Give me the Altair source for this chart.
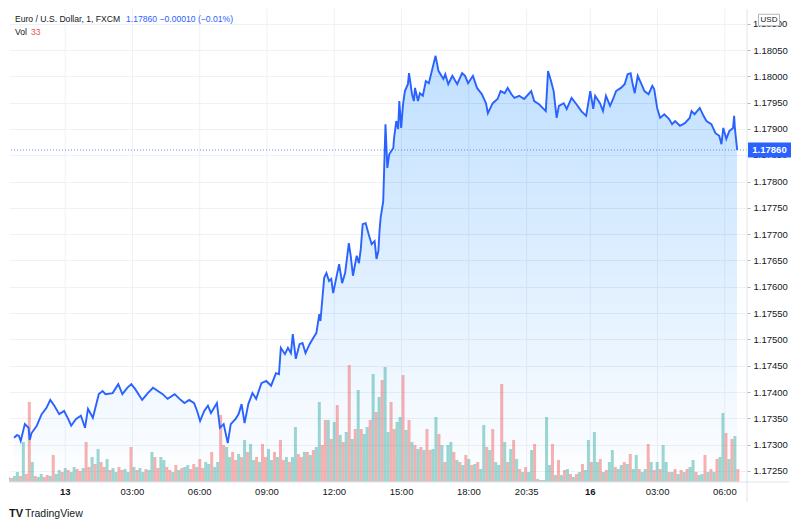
import altair as alt
import pandas as pd

# ---- price series (minutes relative to 13th 00:00, trading-time axis) ----
times = [-137, -129, -124, -119, -108, -98, -95, -90, -76, -63, -50, -40, -29, -16, -3,
         8, 16, 29, 42, 53, 61, 74, 90, 100, 108, 127, 142, 153, 166, 177, 187, 206, 221,
         235, 248, 261, 274, 293, 306, 319, 332, 345, 353, 361, 372, 382, 390, 406, 414,
         424, 435, 443, 456, 464, 472, 480, 490, 501, 511, 525, 538, 551, 564, 572, 577,
         588, 596, 604, 609, 617, 627, 635, 643, 654, 664, 672, 680, 683, 693, 699, 706,
         712, 717, 728, 733, 741, 749, 759, 764, 770, 780, 786, 791, 796, 804, 812, 820,
         828, 833, 838, 841, 844, 851, 857, 862, 867, 878, 880, 886, 891, 894, 899, 904,
         909, 917, 920, 928, 933, 936, 944, 949, 957, 965, 973, 983, 991, 999, 1012, 1017,
         1025, 1036, 1049, 1062, 1070, 1078, 1091, 1102, 1115, 1126, 1131, 1144, 1157, 1165,
         1176, 1184, 1194, 1202, 1215, 1228, 1247, 1255, 1268, 1286, 1292, 1300, 1307, 1315,
         1321, 1334, 1342, 1355, 1368, 1381, 1394, 1405, 1413, 1418, 1431, 1439, 1447, 1458,
         1466, 1474, 1487, 1497, 1505, 1513, 1518, 1524, 1532, 1542, 1550, 1561, 1571, 1576,
         1584, 1592, 1603, 1616, 1624, 1632, 1645, 1658, 1671, 1676, 1684, 1698, 1708, 1716,
         1729, 1740, 1750, 1756, 1761, 1769, 1777, 1787, 1790, 1792, 1798]

prices = [1.17313, 1.17318, 1.17317, 1.17307, 1.17339, 1.17332, 1.17309, 1.17322, 1.17336,
          1.17358, 1.17370, 1.17385, 1.17374, 1.17358, 1.17364, 1.17349, 1.17336, 1.17349,
          1.17355, 1.17332, 1.17368, 1.17351, 1.17396, 1.17402, 1.17396, 1.17398, 1.17415,
          1.17396, 1.17408, 1.17415, 1.17406, 1.17385, 1.17398, 1.17408, 1.17402, 1.17396,
          1.17387, 1.17396, 1.17387, 1.17379, 1.17385, 1.17379, 1.17364, 1.17345, 1.17364,
          1.17374, 1.17360, 1.17379, 1.17332, 1.17339, 1.17303, 1.17339, 1.17349, 1.17358,
          1.17377, 1.17341, 1.17377, 1.17398, 1.17387, 1.17417, 1.17421, 1.17412, 1.17436,
          1.17434, 1.17484, 1.17472, 1.17484, 1.17474, 1.17510, 1.17463, 1.17491, 1.17493,
          1.17474, 1.17491, 1.17503, 1.17512, 1.17548, 1.17535, 1.17617, 1.17626, 1.17611,
          1.17615, 1.17588, 1.17626, 1.17643, 1.17607, 1.17626, 1.17683, 1.17659, 1.17621,
          1.17659, 1.17645, 1.17672, 1.17719, 1.17721, 1.17700, 1.17681, 1.17687, 1.17653,
          1.17668, 1.17706, 1.17731, 1.17763, 1.17909, 1.17826, 1.17852, 1.17864, 1.17883,
          1.17915, 1.17900, 1.17953, 1.17902, 1.17947, 1.17972, 1.17985, 1.18006, 1.17966,
          1.17953, 1.17978, 1.17953, 1.17968, 1.17963, 1.17991, 1.17987, 1.18016, 1.18039,
          1.18010, 1.17995, 1.18004, 1.17985, 1.18001, 1.17985, 1.18006, 1.18001, 1.17987,
          1.18001, 1.17978, 1.17966, 1.17949, 1.17930, 1.17949, 1.17957, 1.17972, 1.17968,
          1.17978, 1.17966, 1.17959, 1.17963, 1.17957, 1.17972, 1.17953, 1.17947, 1.17934,
          1.18010, 1.17991, 1.17972, 1.17921, 1.17944, 1.17949, 1.17938, 1.17959, 1.17947,
          1.17934, 1.17925, 1.17972, 1.17938, 1.17963, 1.17949, 1.17934, 1.17963, 1.17944,
          1.17957, 1.17972, 1.17978, 1.17985, 1.18004, 1.18006, 1.17987, 1.17968, 1.18001,
          1.17985, 1.17972, 1.17966, 1.17982, 1.17976, 1.17940, 1.17921, 1.17928, 1.17919,
          1.17909, 1.17915, 1.17906, 1.17911, 1.17921, 1.17934, 1.17928, 1.17940, 1.17925,
          1.17915, 1.17909, 1.17892, 1.17887, 1.17871, 1.17902, 1.17881, 1.17896, 1.17902,
          1.17925, 1.17902, 1.17860]

# ---- volume (8-minute buckets starting at vol_start) ----
vol_start = -152
vol_step = 8
volumes = [5, 4, 6, 10, 6, 40, 8, 80, 20, 6,
           5, 8, 5, 7, 6, 27, 8, 12, 10, 14,
           12, 10, 15, 13, 11, 14, 40, 15, 25, 18,
           33, 20, 15, 23, 12, 14, 10, 15, 12, 13,
           10, 35, 15, 12, 14, 10, 13, 12, 30, 25,
           14, 25, 22, 15, 12, 10, 17, 12, 14, 15,
           17, 13, 18, 15, 23, 14, 20, 18, 30, 15,
           20, 67, 37, 35, 25, 30, 22, 28, 25, 42,
           30, 38, 22, 25, 20, 38, 25, 33, 22, 30,
           25, 42, 22, 25, 20, 25, 55, 28, 25, 30,
           30, 27, 32, 35, 80, 37, 62, 62, 43, 60,
           77, 47, 40, 50, 117, 43, 53, 92, 53, 48,
           55, 62, 108, 70, 85, 102, 115, 50, 80, 53,
           60, 65, 107, 52, 62, 40, 37, 33, 35, 32,
           53, 32, 33, 65, 48, 37, 20, 37, 40, 30,
           22, 20, 17, 27, 23, 17, 18, 20, 13, 57,
           35, 32, 53, 20, 17, 98, 40, 20, 33, 42,
           23, 13, 10, 15, 10, 32, 38, 3, 2, 2,
           65, 17, 38, 7, 22, 7, 12, 13, 8, 5,
           8, 10, 18, 12, 42, 20, 50, 20, 23, 10,
           12, 20, 32, 15, 13, 17, 20, 18, 28, 13,
           27, 13, 10, 13, 38, 20, 12, 20, 13, 37,
           20, 10, 10, 13, 8, 12, 10, 13, 15, 22,
           10, 7, 8, 27, 10, 13, 10, 23, 25, 69,
           49, 23, 43, 46, 13]
red_idx = [1, 4, 6, 7, 9, 12, 13, 15, 18, 20, 23, 24, 26, 27, 29, 31, 32, 34, 37, 38,
           41, 43, 46, 49, 50, 53, 54, 56, 58, 61, 62, 64, 65, 68, 71, 72, 75, 76, 78,
           80, 83, 85, 86, 89, 91, 92, 94, 97, 98, 100, 102, 105, 106, 108, 110, 112,
           114, 116, 118, 121, 123, 125, 128, 129, 132, 134, 136, 138, 140, 141, 144,
           146, 149, 151, 153, 155, 157, 160, 162, 165, 167, 169, 171, 173, 176, 178,
           182, 184, 186, 188, 190, 192, 195, 198, 200, 203, 206, 208, 211, 214, 216,
           218, 221, 223, 225, 227, 230, 233, 235, 237, 240, 242, 244]

tick_times = [0, 180, 360, 540, 720, 900, 1080, 1235, 1405, 1585, 1765]
tick_labels = ["13", "03:00", "06:00", "09:00", "12:00", "15:00", "18:00", "20:35", "16", "03:00", "06:00"]
day_labels = ["13", "16"]   # shown in bold
price_ticks = [1.1725, 1.1730, 1.1735, 1.1740, 1.1745, 1.1750, 1.1755, 1.1760, 1.1765,
               1.1770, 1.1775, 1.1780, 1.1785, 1.1790, 1.1795, 1.1800, 1.1805, 1.1810]
hidden_ticks = [1.1785, 1.1810]   # labels partly covered by the price marker / USD box

W, H = 738, 473
XDOM = [-137, 1811]
YDOM = [1.17229, 1.18128]
FONT = "Liberation Sans"
BLUE = "#2962ff"
DARK = "#131722"
GRID = "#eef1f8"

line_df = pd.DataFrame({"t": times, "p": prices})
vol_df = pd.DataFrame({
    "t": [vol_start + vol_step * i for i in range(len(volumes))],
    "v": volumes,
    "dir": ["down" if i in red_idx else "up" for i in range(len(volumes))],
})
tick_df = pd.DataFrame({"t": tick_times, "lbl": tick_labels,
                        "day": [l in day_labels for l in tick_labels]})
last_df = pd.DataFrame({"p": [prices[-1]], "lbl": [f"{prices[-1]:.5f}"]})
hid_df = pd.DataFrame({"p": hidden_ticks, "lbl": [f"{v:.5f}" for v in hidden_ticks]})

x_scale = alt.Scale(domain=XDOM, nice=False, zero=False)
y_scale = alt.Scale(domain=YDOM, nice=False, zero=False)
X = alt.X("t:Q", scale=x_scale, axis=None)

hide_test = " || ".join(f"abs(datum.value - {v}) < 0.00001" for v in hidden_ticks)
y_axis = alt.Axis(
    orient="right", values=price_ticks, format=".5f", grid=True, gridColor=GRID,
    tickSize=3, tickColor="#b2b5be", domain=False, tickCount=40,
    labelColor={"condition": {"test": hide_test, "value": "transparent"}, "value": DARK},
    labelFont=FONT, labelFontSize=9.5, labelPadding=3, title=None, labelOverlap=False,
)

# time grid and time labels (drawn from the tick lists)
vgrid = alt.Chart(tick_df).mark_rule(color=GRID, strokeWidth=1).encode(x=X)
tlabels_norm = alt.Chart(tick_df).transform_filter("!datum.day").mark_text(
    color=DARK, font=FONT, fontSize=9.5, baseline="middle").encode(x=X, y=alt.value(H + 10), text="lbl:N")
tlabels_bold = alt.Chart(tick_df).transform_filter("datum.day").mark_text(
    color=DARK, font=FONT, fontSize=9.5, fontWeight="bold", baseline="middle").encode(
    x=X, y=alt.value(H + 10), text="lbl:N")

# translucent fill under the line, built from nested layers so it fades toward the bottom
n_bands = 32
band_top = 1.1806
bands = []
for k in range(n_bands):
    lv = YDOM[0] + (band_top - YDOM[0]) * k / n_bands
    bands.append(
        alt.Chart(line_df)
        .transform_calculate(lo=f"min(datum.p, {lv})")
        .mark_area(color="#3a68f5", opacity=0.0092, clip=True)
        .encode(x=X, y=alt.Y("p:Q", scale=y_scale, axis=None), y2=alt.Y2("lo"))
    )
fill_layer = alt.layer(vgrid, *bands)

vol = alt.Chart(vol_df).mark_bar(width=3.0, opacity=0.45, clip=True).encode(
    x=X,
    y=alt.Y("v:Q", scale=alt.Scale(domain=[0, H], nice=False), axis=None),
    color=alt.Color("dir:N", scale=alt.Scale(domain=["up", "down"], range=["#26a69a", "#ef5350"]),
                    legend=None),
)

line = alt.Chart(line_df).mark_line(color=BLUE, strokeWidth=1.9, clip=True).encode(
    x=X, y=alt.Y("p:Q", scale=y_scale, axis=y_axis))

last = alt.Chart(last_df)
dotted = last.mark_rule(color=BLUE, strokeDash=[1, 2], strokeWidth=1, opacity=0.7).encode(
    y=alt.Y("p:Q", scale=y_scale, axis=None))
hid_lbl = alt.Chart(hid_df).mark_text(
    color=DARK, font=FONT, fontSize=9.5, align="left", baseline="middle"
).encode(x=alt.value(W + 6), y=alt.Y("p:Q", scale=y_scale, axis=None), text="lbl:N")
marker = last.mark_point(
    shape="M-1,-0.35 L1,-0.35 L1,0.35 L-1,0.35 Z", size=1849, filled=True,
    color=BLUE, opacity=1, strokeWidth=0,
).encode(x=alt.value(760.5), y=alt.Y("p:Q", scale=y_scale, axis=None))
marker_txt = last.mark_text(color="white", font=FONT, fontSize=9.5, fontWeight="bold").encode(
    x=alt.value(760.5), y=alt.Y("p:Q", scale=y_scale, axis=None), text="lbl:N")
overlay = alt.layer(dotted, hid_lbl, marker, marker_txt)

one = pd.DataFrame({"a": [0]})

def txt(s, x, y, color=DARK, size=9.5, weight="normal", align="left"):
    return alt.Chart(one).mark_text(
        text=s, color=color, font=FONT, fontSize=size, fontWeight=weight, align=align, baseline="middle"
    ).encode(x=alt.value(x), y=alt.value(y))

# pane borders: bottom time-scale line and the price-scale separator
frame_h = alt.Chart(one).mark_rule(color="#e0e3eb").encode(
    x=alt.value(0), x2=alt.value(W + 42), y=alt.value(H))
frame_v = alt.Chart(one).mark_rule(color="#e0e3eb").encode(
    x=alt.value(W), y=alt.value(0), y2=alt.value(H + 20))

usd_box = alt.Chart(one).mark_point(
    shape="M-1,-0.55 L1,-0.55 L1,0.55 L-1,0.55 Z", size=441, filled=True, fill="white",
    stroke="#b2b5be", strokeWidth=1, opacity=1,
).encode(x=alt.value(760), y=alt.value(11))

texts = alt.layer(
    frame_h, frame_v,
    txt("Euro / U.S. Dollar, 1, FXCM", 6, 10, size=8.6),
    txt("1.17860  \u22120.00010 (\u22120.01%)", 117, 10, color=BLUE, size=8.6),
    txt("Vol", 6, 23, size=8.6),
    txt("33", 22, 23, color="#ef5350", size=8.6),
    usd_box,
    txt("USD", 760, 11, size=8, align="center"),
    txt("TV", 0, 505, size=11, weight="bold"),
    txt("TradingView", 16, 505, size=10.5),
)

chart = (
    alt.layer(fill_layer, vol, line, overlay, tlabels_norm, tlabels_bold)
    .resolve_scale(y="independent")
    .properties(width=W, height=H)
)
chart = alt.layer(chart, texts).properties(padding=0, background="white").configure_view(stroke=None)

chart.save("out.html", embed_options={"renderer": "svg", "actions": False})
